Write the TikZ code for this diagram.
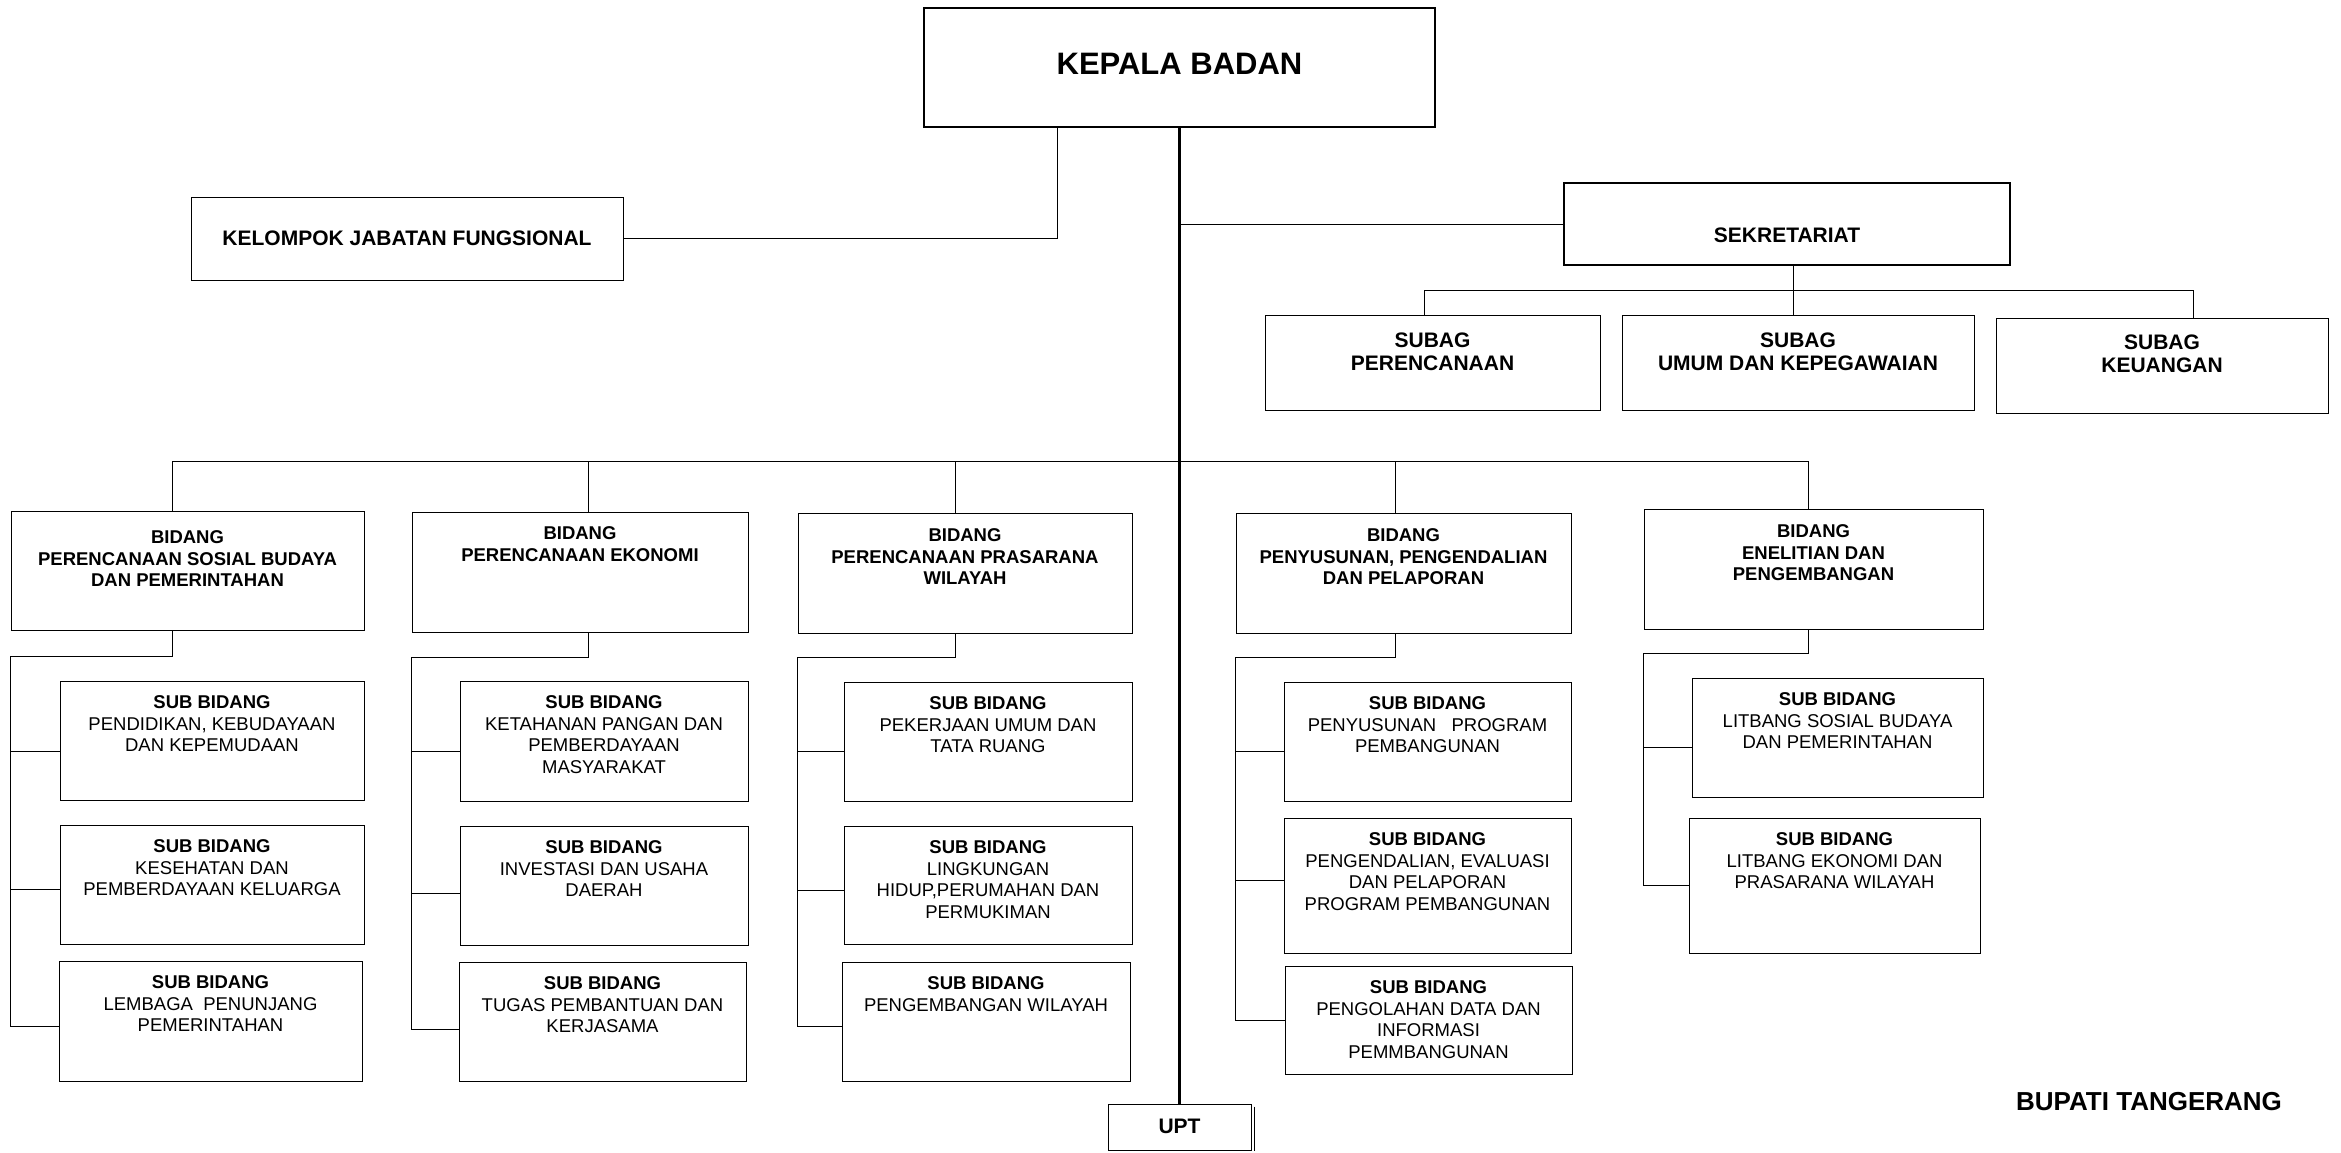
\documentclass[tikz,border=0pt]{standalone}
\usepackage{fontspec}
\setmainfont{Liberation Sans}

\tikzset{
  orgbox/.style n args={3}{draw, inner sep=0pt,
    execute at begin node={\begin{minipage}[c][#2pt][t]{#1pt}\centering\rule{0pt}{#3pt}},
    execute at end node={\end{minipage}}},
  headbox/.style n args={3}{orgbox={#1}{#2}{#3}, line width=2.8pt,
    font=\bfseries\fontsize{21}{23}\selectfont},
  subagbox/.style n args={3}{orgbox={#1}{#2}{#3},
    font=\bfseries\fontsize{21}{23}\selectfont},
  bidangbox/.style n args={3}{orgbox={#1}{#2}{#3},
    font=\bfseries\fontsize{18.5}{21.5}\selectfont},
  subbox/.style 2 args={orgbox={#1}{#2}{27.6},
    font=\fontsize{18.5}{21.5}\selectfont},
  mainline/.style={line width=2.6pt}
}

\begin{document}
\begin{tikzpicture}[x=1pt, y=-1pt, line width=1pt]
\useasboundingbox (0,0) rectangle (2341,1152);

% Top level
\node[headbox={511}{119}{66},
    font=\bfseries\fontsize{31}{35}\selectfont] (kepala) at (1179.5,67.5) {KEPALA BADAN};
\node[subagbox={432}{83}{48}] (kelompok) at (407,238.5) {KELOMPOK JABATAN FUNGSIONAL};
\node[headbox={446}{82}{59.5}] (sek) at (1787,224) {SEKRETARIAT};

% Subag
\node[subagbox={335}{95}{32.5}] (subren) at (1432.5,362.5) {SUBAG\\PERENCANAAN};
\node[subagbox={352}{95}{32.5}] (subumum) at (1798,362.5) {SUBAG\\UMUM DAN KEPEGAWAIAN};
\node[subagbox={332}{95}{31.5}] (subuang) at (2162,365.5) {SUBAG\\KEUANGAN};

% Bidang
\node[bidangbox={353}{119}{32.5}] (b1) at (187.5,570.5)
    {BIDANG\\PERENCANAAN SOSIAL BUDAYA\\DAN PEMERINTAHAN};
\node[bidangbox={336}{120}{27.6}] (b2) at (580,572)
    {BIDANG\\PERENCANAAN EKONOMI};
\node[bidangbox={334}{120}{28.6}] (b3) at (965,573)
    {BIDANG\\PERENCANAAN PRASARANA\\WILAYAH};
\node[bidangbox={335}{120}{28.6}] (b4) at (1403.5,573)
    {BIDANG\\PENYUSUNAN, PENGENDALIAN\\DAN PELAPORAN};
\node[bidangbox={339}{120}{28.6}] (b5) at (1813.5,569)
    {BIDANG\\ENELITIAN DAN\\PENGEMBANGAN};

% Sub bidang, column 1
\node[subbox={304}{119}] (s11) at (212,740.5)
    {{\bfseries SUB BIDANG}\\PENDIDIKAN, KEBUDAYAAN\\DAN KEPEMUDAAN};
\node[subbox={304}{119}] (s12) at (212,884.5)
    {{\bfseries SUB BIDANG}\\KESEHATAN DAN\\PEMBERDAYAAN KELUARGA};
\node[subbox={303}{120}] (s13) at (210.5,1021)
    {{\bfseries SUB BIDANG}\\LEMBAGA\ \ PENUNJANG\\PEMERINTAHAN};

% Sub bidang, column 2
\node[subbox={288}{120}] (s21) at (604,741)
    {{\bfseries SUB BIDANG}\\KETAHANAN PANGAN DAN\\PEMBERDAYAAN\\MASYARAKAT};
\node[subbox={288}{119}] (s22) at (604,885.5)
    {{\bfseries SUB BIDANG}\\INVESTASI DAN USAHA\\DAERAH};
\node[subbox={287}{119}] (s23) at (602.5,1021.5)
    {{\bfseries SUB BIDANG}\\TUGAS PEMBANTUAN DAN\\KERJASAMA};

% Sub bidang, column 3
\node[subbox={288}{119}] (s31) at (988,741.5)
    {{\bfseries SUB BIDANG}\\PEKERJAAN UMUM DAN\\TATA RUANG};
\node[subbox={288}{118}] (s32) at (988,885)
    {{\bfseries SUB BIDANG}\\LINGKUNGAN\\HIDUP,PERUMAHAN DAN\\PERMUKIMAN};
\node[subbox={288}{119}] (s33) at (986,1021.5)
    {{\bfseries SUB BIDANG}\\PENGEMBANGAN WILAYAH};

% Sub bidang, column 4
\node[subbox={287}{119}] (s41) at (1427.5,741.5)
    {{\bfseries SUB BIDANG}\\PENYUSUNAN\ \ \ PROGRAM\\PEMBANGUNAN};
\node[subbox={287}{135}] (s42) at (1427.5,885.5)
    {{\bfseries SUB BIDANG}\\PENGENDALIAN, EVALUASI\\DAN PELAPORAN\\PROGRAM PEMBANGUNAN};
\node[subbox={287}{108}] (s43) at (1428.5,1020)
    {{\bfseries SUB BIDANG}\\PENGOLAHAN DATA DAN\\INFORMASI\\PEMMBANGUNAN};

% Sub bidang, column 5
\node[subbox={291}{119}] (s51) at (1837.5,737.5)
    {{\bfseries SUB BIDANG}\\LITBANG SOSIAL BUDAYA\\DAN PEMERINTAHAN};
\node[subbox={291}{135}] (s52) at (1834.5,885.5)
    {{\bfseries SUB BIDANG}\\LITBANG EKONOMI DAN\\PRASARANA WILAYAH};

% UPT and signature
\node[subagbox={143}{46}{29.5}] (upt) at (1179.5,1127) {UPT};
\draw ([xshift=3pt,yshift=-3pt]upt.north east) -- ([xshift=3pt]upt.south east);
\node[font=\bfseries\fontsize{26}{30}\selectfont] (bupati) at (2149,1102) {BUPATI TANGERANG};

% Lines from the head
\draw[mainline] (kepala.south) -- (upt.north);
\draw (kepala.south) ++(-122,0) |- (kelompok.east);
\draw (kepala.south |- sek.west) -- (sek.west);

% Sekretariat
\draw (sek.south) ++(6,0) -- ++(0,50);
\draw (subren.north) ++(-8,0) -- ++(0,-24) -| ([xshift=31pt]subuang.north);

% Bidang bus
\draw (b1.north) ++(-15,0) -- ++(0,-49) -| ([xshift=-5pt]b5.north);
\draw (b2.north) ++(8,0) -- ++(0,-50);
\draw (b3.north) ++(-10,0) -- ++(0,-51);
\draw (b4.north) ++(-8,0) -- ++(0,-51);

% Sub bidang connectors
\draw (b1.south) ++(-15,0) -- ++(0,26) -| (s13.182 -| b1.west) -- (s13.182);
\draw (s11.184 -| b1.west) -- (s11.184);
\draw (s12.182 -| b1.west) -- (s12.182);

\draw (b2.south) ++(8,0) -- ++(0,25) -| (s23.183 -| b2.west) -- (s23.183);
\draw (s21.184 -| b2.west) -- (s21.184);
\draw (s22.183 -| b2.west) -- (s22.183);

\draw (b3.south) ++(-10,0) -- ++(0,24) -| (s33.182 -| b3.west) -- (s33.182);
\draw (s31.184 -| b3.west) -- (s31.184);
\draw (s32.182 -| b3.west) -- (s32.182);

\draw (b4.south) ++(-8,0) -- ++(0,24) -| (s43.west -| b4.west) -- (s43.west);
\draw (s41.184 -| b4.west) -- (s41.184);
\draw (s42.178 -| b4.west) -- (s42.178);

\draw (b5.south) ++(-5,0) -- ++(0,24) -| (s52.west -| b5.west) -- (s52.west);
\draw (s51.184 -| b5.west) -- (s51.184);

\end{tikzpicture}
\end{document}
